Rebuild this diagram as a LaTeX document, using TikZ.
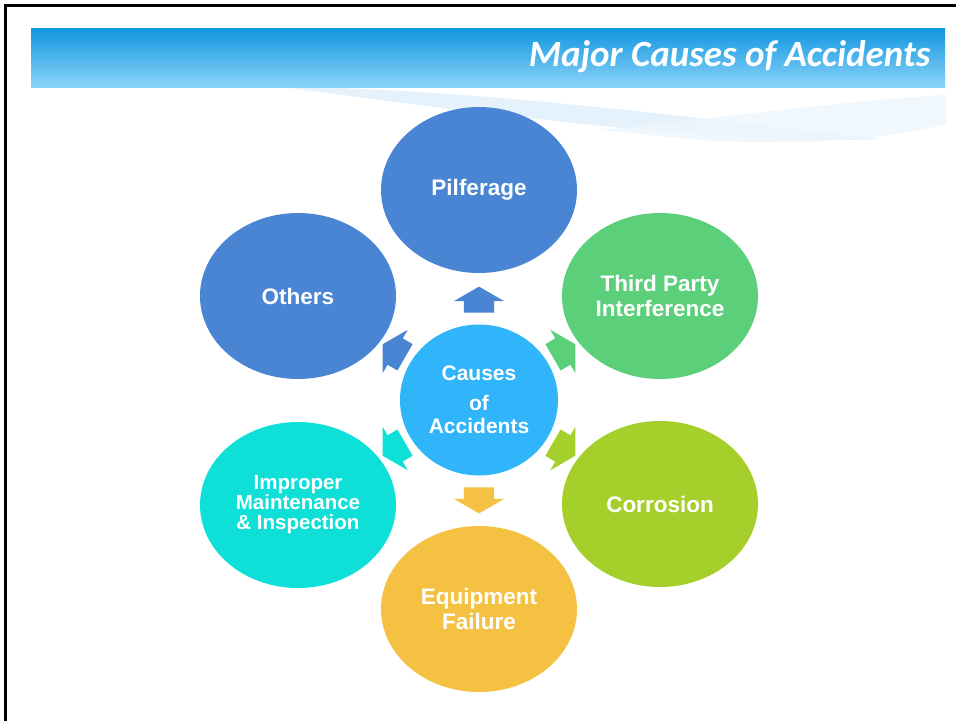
\documentclass[tikz,border=0pt]{standalone}
\usepackage{fontspec}
\setmainfont{Liberation Sans}
\newfontfamily\titlefont{Carlito}
\usepackage{xcolor}
\usepackage{tikz}
\usetikzlibrary{positioning,calc}
\usetikzlibrary{shapes.geometric,shapes.arrows}

\definecolor{hubblue}{HTML}{30B4FA}
\definecolor{pilfblue}{HTML}{4A85D3}
\definecolor{partygreen}{HTML}{5CCF7A}
\definecolor{corrlime}{HTML}{A5CF2B}
\definecolor{equipgold}{HTML}{F4C142}
\definecolor{maintcyan}{HTML}{0EE0D8}
\definecolor{bartop}{HTML}{1196E0}
\definecolor{barbot}{HTML}{8AD3F8}
\definecolor{waveA}{HTML}{E5F2FC}
\definecolor{waveB}{HTML}{EEF6FD}

\begin{document}
\begin{tikzpicture}[x=1pt,y=1pt,
    cause/.style={ellipse,minimum width=196,minimum height=166,inner sep=0pt,
                  text=white,align=center,font=\fontsize{22.5}{24.5}\selectfont\bfseries},
    hub/.style={ellipse,minimum width=158,minimum height=151,inner sep=0pt,fill=hubblue,
                text=white,align=center,font=\fontsize{21}{23}\selectfont\bfseries},
    blockarrow/.style={single arrow,minimum height=26,minimum width=50,inner sep=0pt,
                       inner ysep=15,single arrow head extend=10,single arrow tip angle=120}]
\useasboundingbox (0,0) rectangle (956,-721);
% slide frame
\draw[line width=2.5] (5.5,-721) -- (5.5,-5.5) -- (956,-5.5);
% light swoosh under the title
\fill[waveA] (250,-86) .. controls (450,-87) and (650,-112) .. (880,-139)
             .. controls (760,-145) and (560,-125) .. (290,-88) -- cycle;
\fill[waveB,opacity=.8] (600,-130) .. controls (720,-118) and (850,-100) .. (946,-95)
             -- (946,-124) .. controls (880,-140) and (800,-146) .. (700,-140) -- cycle;
% title bar
\shade[top color=bartop,bottom color=barbot] (31,-28) rectangle (945,-87);
\node[anchor=base east,text=white,font=\titlefont\fontsize{37}{42}\selectfont\bfseries\itshape]
     (title) at (934,-66) {Major Causes of Accidents};

\node[hub] (hub) at (479,-400) {Causes\\[7pt]of\\Accidents};
\node[cause,fill=pilfblue] (pilf) at (479,-190) {Pilferage};
\node[cause,fill=pilfblue] (others) at (298,-296) {Others};
\node[cause,fill=partygreen] (party) at (660,-296) {Third Party\\Interference};
\node[cause,fill=maintcyan,font=\fontsize{20.5}{20}\selectfont\bfseries] (maint) at (298,-505)
     {Improper\\Maintenance\\\& Inspection};
\node[cause,fill=corrlime] (corr) at (660,-504) {Corrosion};
\node[cause,fill=equipgold] (equip) at (479,-609) {Equipment\\Failure};

\node[blockarrow,fill=pilfblue,rotate=90] (toPilf) at ($(hub)+(90:96)$) {};
\node[blockarrow,fill=pilfblue,rotate=150] (toOthers) at ($(hub)+(150:94)$) {};
\node[blockarrow,fill=partygreen,rotate=30] (toParty) at ($(hub)+(30:94)$) {};
\node[blockarrow,fill=maintcyan,rotate=210] (toMaint) at ($(hub)+(210:94)$) {};
\node[blockarrow,fill=corrlime,rotate=-30] (toCorr) at ($(hub)+(-30:94)$) {};
\node[blockarrow,fill=equipgold,rotate=-90] (toEquip) at ($(hub)+(-90:96)$) {};
\end{tikzpicture}
\end{document}
